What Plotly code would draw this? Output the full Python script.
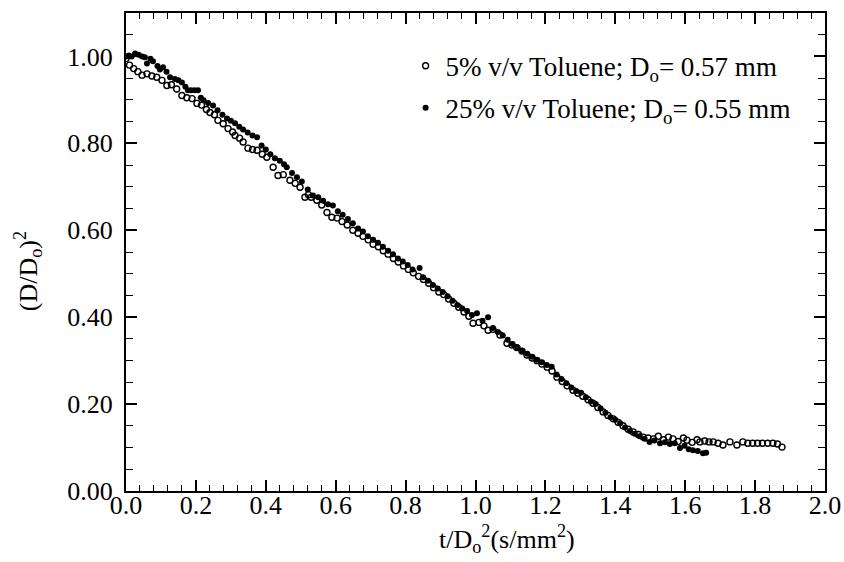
import plotly.graph_objects as go

# 5% v/v Toluene (open circles)
x_5 = [0.000, 0.010, 0.022, 0.034, 0.046, 0.060, 0.074, 0.088, 0.103, 0.117,
       0.130, 0.145, 0.160, 0.174, 0.189, 0.203, 0.216, 0.230, 0.240, 0.253,
       0.263, 0.278, 0.292, 0.305, 0.312, 0.325, 0.335, 0.349, 0.362, 0.375,
       0.390, 0.403, 0.421, 0.435, 0.450, 0.469, 0.484, 0.498, 0.512, 0.522,
       0.530, 0.546, 0.560, 0.575, 0.589, 0.604, 0.618, 0.633, 0.649, 0.664,
       0.678, 0.693, 0.707, 0.722, 0.736, 0.750, 0.765, 0.779, 0.794, 0.808,
       0.822, 0.837, 0.851, 0.866, 0.880, 0.895, 0.909, 0.923, 0.938, 0.952,
       0.967, 0.981, 0.993, 1.010, 1.024, 1.036, 1.050, 1.070, 1.090, 1.104,
       1.118, 1.133, 1.147, 1.162, 1.176, 1.190, 1.205, 1.219, 1.233, 1.248,
       1.262, 1.279, 1.293, 1.307, 1.322, 1.336, 1.350, 1.365, 1.379, 1.394,
       1.408, 1.422, 1.437, 1.451, 1.466, 1.480, 1.494, 1.509, 1.523, 1.538,
       1.552, 1.565, 1.580, 1.595, 1.605, 1.620, 1.634, 1.642, 1.656, 1.668,
       1.680, 1.694, 1.708, 1.728, 1.748, 1.765, 1.779, 1.793, 1.807, 1.821,
       1.836, 1.851, 1.864, 1.877]
y_5 = [0.995, 0.980, 0.972, 0.965, 0.957, 0.960, 0.955, 0.952, 0.945, 0.933,
       0.935, 0.925, 0.910, 0.905, 0.903, 0.892, 0.888, 0.878, 0.871, 0.866,
       0.853, 0.845, 0.834, 0.826, 0.818, 0.812, 0.803, 0.789, 0.786, 0.784,
       0.775, 0.768, 0.745, 0.726, 0.728, 0.715, 0.708, 0.699, 0.676, 0.682,
       0.676, 0.669, 0.658, 0.641, 0.630, 0.628, 0.620, 0.612, 0.600, 0.593,
       0.586, 0.578, 0.568, 0.562, 0.553, 0.545, 0.535, 0.527, 0.518, 0.510,
       0.502, 0.494, 0.487, 0.478, 0.468, 0.458, 0.452, 0.442, 0.432, 0.423,
       0.412, 0.402, 0.386, 0.388, 0.380, 0.370, 0.372, 0.359, 0.340, 0.336,
       0.330, 0.322, 0.313, 0.306, 0.300, 0.292, 0.285, 0.276, 0.262, 0.252,
       0.242, 0.232, 0.225, 0.218, 0.210, 0.202, 0.192, 0.182, 0.174, 0.166,
       0.158, 0.150, 0.142, 0.136, 0.130, 0.124, 0.122, 0.120, 0.126, 0.118,
       0.124, 0.120, 0.114, 0.122, 0.117, 0.112, 0.118, 0.113, 0.115, 0.113,
       0.113, 0.110, 0.106, 0.113, 0.106, 0.113, 0.110, 0.110, 0.110, 0.110,
       0.110, 0.110, 0.108, 0.101]

# 25% v/v Toluene (filled circles)
x_25 = [0.000, 0.008, 0.016, 0.026, 0.036, 0.046, 0.054, 0.060, 0.070, 0.077,
        0.090, 0.097, 0.106, 0.116, 0.126, 0.140, 0.150, 0.160, 0.170, 0.177,
        0.186, 0.196, 0.206, 0.214, 0.222, 0.235, 0.249, 0.262, 0.276, 0.289,
        0.300, 0.312, 0.324, 0.335, 0.348, 0.362, 0.375, 0.388, 0.400, 0.413,
        0.426, 0.440, 0.452, 0.460, 0.475, 0.489, 0.503, 0.520, 0.535, 0.550,
        0.564, 0.578, 0.592, 0.606, 0.620, 0.635, 0.649, 0.664, 0.678, 0.692,
        0.707, 0.721, 0.735, 0.750, 0.764, 0.778, 0.792, 0.806, 0.820, 0.840,
        0.850, 0.864, 0.878, 0.892, 0.906, 0.920, 0.934, 0.948, 0.962, 0.976,
        0.990, 1.004, 1.020, 1.036, 1.050, 1.064, 1.078, 1.092, 1.106, 1.120,
        1.134, 1.148, 1.162, 1.176, 1.190, 1.204, 1.218, 1.232, 1.246, 1.260,
        1.274, 1.288, 1.302, 1.316, 1.330, 1.344, 1.358, 1.372, 1.386, 1.400,
        1.414, 1.428, 1.442, 1.456, 1.470, 1.484, 1.498, 1.512, 1.528, 1.542,
        1.556, 1.570, 1.585, 1.598, 1.610, 1.622, 1.636, 1.651, 1.660]
y_25 = [1.000, 1.002, 1.000, 1.007, 1.004, 1.000, 0.998, 0.984, 0.995, 0.989,
        0.978, 0.970, 0.975, 0.965, 0.952, 0.948, 0.945, 0.940, 0.930, 0.922,
        0.922, 0.922, 0.922, 0.905, 0.899, 0.893, 0.887, 0.876, 0.866, 0.857,
        0.852, 0.846, 0.838, 0.832, 0.825, 0.818, 0.814, 0.795, 0.786, 0.775,
        0.766, 0.760, 0.752, 0.745, 0.732, 0.722, 0.712, 0.694, 0.680, 0.676,
        0.668, 0.660, 0.657, 0.644, 0.636, 0.626, 0.616, 0.604, 0.597, 0.586,
        0.578, 0.571, 0.562, 0.553, 0.545, 0.535, 0.528, 0.520, 0.510, 0.513,
        0.492, 0.484, 0.474, 0.466, 0.458, 0.448, 0.438, 0.428, 0.420, 0.414,
        0.405, 0.409, 0.392, 0.400, 0.375, 0.366, 0.358, 0.348, 0.338, 0.330,
        0.322, 0.316, 0.309, 0.302, 0.296, 0.290, 0.286, 0.268, 0.258, 0.248,
        0.238, 0.230, 0.226, 0.216, 0.206, 0.200, 0.190, 0.180, 0.170, 0.164,
        0.156, 0.146, 0.138, 0.132, 0.126, 0.120, 0.113, 0.116, 0.110, 0.112,
        0.108, 0.110, 0.099, 0.104, 0.096, 0.094, 0.092, 0.087, 0.088]

name_5 = "5% v/v Toluene; D<sub>o</sub>= 0.57 mm"
name_25 = "25% v/v Toluene; D<sub>o</sub>= 0.55 mm"

FONT = "Liberation Serif, Times New Roman, serif"

fig = go.Figure()
fig.add_trace(go.Scatter(
    x=x_5, y=y_5, mode="markers", name=name_5,
    marker=dict(symbol="circle-open", size=6, color="black", line=dict(width=1.4, color="black")),
    legendgroup="a",
))
fig.add_trace(go.Scatter(
    x=x_25, y=y_25, mode="markers", name=name_25,
    marker=dict(symbol="circle", size=6, color="black"),
    legendgroup="b",
))

axis_common = dict(
    showline=True, linecolor="black", linewidth=2, mirror="ticks",
    ticks="inside", tickcolor="black", tickwidth=1.5, ticklen=11,
    showgrid=False, zeroline=False, automargin=False,
    tickfont=dict(family=FONT, size=26, color="black"),
)

fig.update_xaxes(
    range=[0, 2.0], dtick=0.2, tick0=0, tickformat=".1f",
    minor=dict(dtick=0.04, ticks="inside", ticklen=6, tickcolor="black", tickwidth=1.2, showgrid=False),
    ticklabelstandoff=-10,
    **axis_common,
)
fig.update_yaxes(
    range=[0, 1.10], dtick=0.2, tick0=0, tickformat=".2f",
    minor=dict(dtick=0.05, ticks="inside", ticklen=7, tickcolor="black", tickwidth=1.2, showgrid=False),
    ticklabelstandoff=6,
    **axis_common,
)

fig.add_annotation(
    text="(D/D<sub>o</sub>)<sup>2</sup>", xref="paper", yref="paper",
    x=-0.14, y=0.46, textangle=-90, showarrow=False,
    xanchor="center", yanchor="middle",
    font=dict(family=FONT, size=26, color="black"),
)
fig.add_annotation(
    text="t/D<sub>o</sub><sup>2</sup>(s/mm<sup>2</sup>)", xref="paper", yref="paper",
    x=0.545, y=-0.10, showarrow=False,
    xanchor="center", yanchor="middle",
    font=dict(family=FONT, size=26, color="black"),
)

fig.update_layout(
    width=844, height=562,
    margin=dict(l=126, r=19, t=13, b=71),
    paper_bgcolor="white", plot_bgcolor="white",
    showlegend=True,
    legend=dict(
        x=0.40, y=0.94, xanchor="left", yanchor="top",
        font=dict(family=FONT, size=27, color="black"),
        bgcolor="rgba(0,0,0,0)", borderwidth=0,
        traceorder="grouped", tracegroupgap=4, itemwidth=30,
    ),
)

fig.write_html(
    "out.html",
    config={"displayModeBar": False},
    post_script="document.body.style.margin='0';document.body.style.overflow='hidden';",
)
